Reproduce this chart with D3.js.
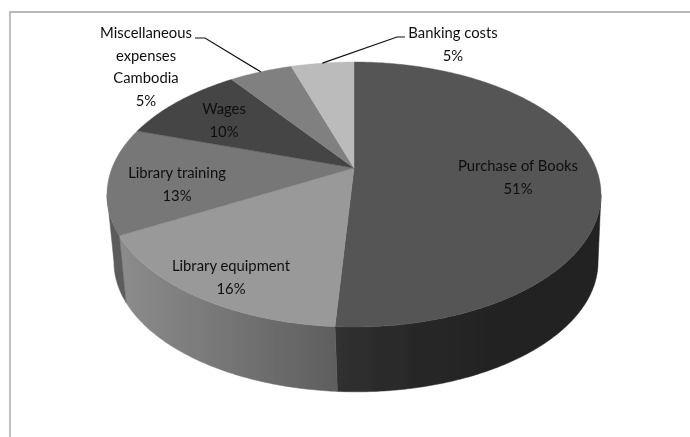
<!DOCTYPE html>
<html>
<head>
<meta charset="utf-8">
<style>
  html, body { margin: 0; padding: 0; background: #fff; }
  svg { display: block; }
  text { font-family: Lato, "Liberation Sans", sans-serif; font-size: 14.8px; fill: #111; text-anchor: middle; }
</style>
<script src="https://cdn.jsdelivr.net/npm/d3@7"></script>
</head>
<body>
<div id="chart"></div>
<script>
// Slices in drawing order, clockwise from twelve o'clock.
var categories = ['Purchase of Books', 'Library equipment', 'Library training', 'Wages', 'Miscellaneous expenses Cambodia', 'Banking costs'];
var values = [51, 16, 13, 10, 5, 5];
var labelLines = [
    ['Purchase of Books', '51%'],
    ['Library equipment', '16%'],
    ['Library training', '13%'],
    ['Wages', '10%'],
    ['Miscellaneous', 'expenses', 'Cambodia', '5%'],
    ['Banking costs', '5%']
];
var topColors = ['#555555', '#999999', '#777777', '#454545', '#808080', '#bbbbbb'];

var width = 690, height = 437;
// Perspective pie: disc centre on screen, radii and tilt.
var cx = 354, cy = 168, rx = 242, ry = 127.2, tilt = 0.2;
var depth = 68, bottomScale = 0.98, bottomShift = 2;

// Map a pie angle and a radius fraction to the screen.
function project(angle, r, lower) {
    var u = r * Math.sin(angle), v = -r * Math.cos(angle);
    var w = 1 - tilt * v;
    var s = lower ? bottomScale : 1;
    return [cx + (lower ? bottomShift : 0) + s * rx * u / w, cy + (lower ? depth : 0) + s * ry * v / w];
}

var svg = d3.select('#chart').append('svg')
    .attr('width', width)
    .attr('height', height);

var defs = svg.append('defs');
defs.append('filter').attr('id', 'soft')
    .append('feGaussianBlur').attr('stdDeviation', 0.55);
defs.append('filter').attr('id', 'soft-text')
    .append('feGaussianBlur').attr('stdDeviation', 0.3);

var equipSide = defs.append('linearGradient').attr('id', 'equip-side')
    .attr('gradientUnits', 'userSpaceOnUse')
    .attr('x1', 120).attr('x2', 338).attr('y1', 0).attr('y2', 0);
equipSide.append('stop').attr('offset', 0).attr('stop-color', '#8c8c8c');
equipSide.append('stop').attr('offset', 1).attr('stop-color', '#5e5e5e');

var booksSide = defs.append('linearGradient').attr('id', 'books-side')
    .attr('gradientUnits', 'userSpaceOnUse')
    .attr('x1', 338).attr('x2', 600).attr('y1', 0).attr('y2', 0);
booksSide.append('stop').attr('offset', 0).attr('stop-color', '#303030');
booksSide.append('stop').attr('offset', 0.4).attr('stop-color', '#252525');
booksSide.append('stop').attr('offset', 1).attr('stop-color', '#222222');

var frame = svg.append('g').attr('class', 'frame');
frame.append('path')
    .attr('d', d3.line()([[10, height], [10, 12], [width, 12]]))
    .attr('fill', 'none')
    .attr('stroke', '#b8b8b8')
    .attr('stroke-width', 1.8);

var arcs = d3.pie().sort(null).value(function(d) { return d; })(values);
var line = d3.line();

function arcPoints(a0, a1, r, lower) {
    var n = Math.max(2, Math.ceil((a1 - a0) / 0.01));
    return d3.range(n + 1).map(function(i) {
        return project(a0 + (a1 - a0) * i / n, r, lower);
    });
}

var pie = svg.append('g').attr('class', 'pie').attr('filter', 'url(#soft)');

// Side wall: the visible rim runs between the widest points of the projected ellipse, which sit at v = tilt.
var sideFills = ['url(#books-side)', 'url(#equip-side)', '#5c5c5c'];
var rimStart = Math.PI / 2 + Math.asin(tilt), rimEnd = 3 * Math.PI / 2 - Math.asin(tilt);
pie.selectAll('path.side')
    .data(arcs.slice(0, 3))
    .join('path')
    .attr('class', 'side')
    .attr('d', function(d) {
        var a0 = Math.max(d.startAngle, rimStart), a1 = Math.min(d.endAngle, rimEnd);
        var upper = arcPoints(a0, a1, 1, false);
        var lower = arcPoints(a0, a1, 1, true).reverse();
        return line(upper.concat(lower)) + 'Z';
    })
    .attr('fill', function(d, i) { return sideFills[i]; })
    .attr('stroke', function(d, i) { return sideFills[i]; })
    .attr('stroke-width', 0.5);

// Top face.
pie.selectAll('path.top')
    .data(arcs)
    .join('path')
    .attr('class', 'top')
    .attr('d', function(d) {
        return line([project(0, 0, false)].concat(arcPoints(d.startAngle, d.endAngle, 1, false))) + 'Z';
    })
    .attr('fill', function(d, i) { return topColors[i]; })
    .attr('stroke', function(d, i) { return topColors[i]; })
    .attr('stroke-width', 0.4);

// Leader lines for the two small outer slices.
var leaderData = [
    { slice: 4, r: 1.0, start: [195, 38], knee: [205, 38] },
    { slice: 5, r: 1.0, start: [405, 37], knee: [397, 37] }
];
svg.append('g').attr('class', 'leaders')
    .selectAll('path')
    .data(leaderData)
    .join('path')
    .attr('d', function(d) {
        var a = arcs[d.slice];
        return line([d.start, d.knee, project((a.startAngle + a.endAngle) / 2, d.r, false)]);
    })
    .attr('fill', 'none')
    .attr('stroke', '#111')
    .attr('stroke-width', 1.2);

// Label anchors: x centre and y of the first baseline.
var labelPos = [[518, 171], [231, 271], [177, 178], [224, 114], [146, 38], [453, 38]];
var lineHeight = 22.5;
var labels = svg.append('g').attr('class', 'labels').attr('filter', 'url(#soft-text)');
labels.selectAll('text')
    .data(labelLines)
    .join('text')
    .attr('transform', function(d, i) { return 'translate(' + labelPos[i] + ')'; })
    .each(function(d) {
        d3.select(this).selectAll('tspan')
            .data(d)
            .join('tspan')
            .attr('x', 0)
            .attr('y', function(t, j) { return j * lineHeight; })
            .text(function(t) { return t; });
    });
</script>
</body>
</html>
